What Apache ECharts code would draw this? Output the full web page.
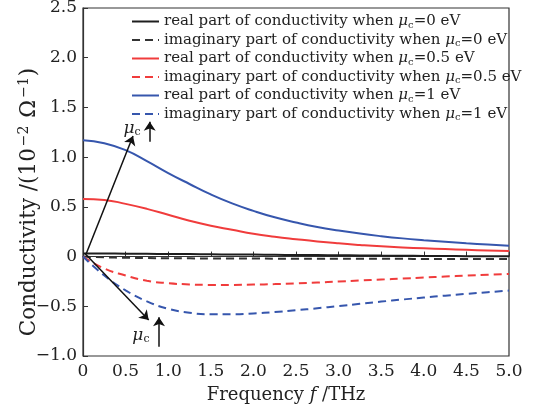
<!DOCTYPE html>
<html>
<head>
<meta charset="utf-8">
<script src="https://cdn.jsdelivr.net/npm/echarts@6/dist/echarts.min.js"></script>
<style>html,body{margin:0;padding:0;background:#fff}#c{width:535px;height:413px}</style>
</head>
<body>
<div id="c"></div>
<script>
// Frequency (THz)
const freq = [0,0.25,0.5,0.75,1.0,1.25,1.5,1.75,2.0,2.25,2.5,2.75,3.0,3.25,3.5,3.75,4.0,4.25,4.5,4.75,5.0];
// Conductivity (10^-2 S)
const real0  = [0.03,0.03,0.029,0.028,0.026,0.025,0.023,0.021,0.02,0.018,0.016,0.015,0.013,0.012,0.01,0.009,0.007,0.006,0.004,0.003,0.002];
const imag0  = [0,-0.008,-0.012,-0.015,-0.017,-0.018,-0.019,-0.02,-0.02,-0.021,-0.021,-0.022,-0.022,-0.023,-0.023,-0.023,-0.024,-0.024,-0.024,-0.025,-0.025];
const real05 = [0.58,0.57,0.53,0.48,0.42,0.36,0.31,0.27,0.23,0.20,0.175,0.152,0.133,0.117,0.103,0.092,0.083,0.075,0.068,0.061,0.055];
const imag05 = [0,-0.12,-0.19,-0.243,-0.268,-0.28,-0.285,-0.285,-0.282,-0.277,-0.27,-0.261,-0.251,-0.241,-0.231,-0.221,-0.211,-0.201,-0.192,-0.183,-0.175];
const real1  = [1.17,1.14,1.07,0.96,0.84,0.73,0.625,0.535,0.46,0.395,0.343,0.298,0.262,0.231,0.205,0.183,0.165,0.149,0.134,0.121,0.108];
const imag1  = [0,-0.19,-0.34,-0.45,-0.525,-0.565,-0.58,-0.58,-0.572,-0.558,-0.54,-0.52,-0.498,-0.475,-0.453,-0.432,-0.412,-0.393,-0.375,-0.358,-0.342];
const seriesNames = [
  'real part of conductivity when μc=0 eV',
  'imaginary part of conductivity when μc=0 eV',
  'real part of conductivity when μc=0.5 eV',
  'imaginary part of conductivity when μc=0.5 eV',
  'real part of conductivity when μc=1 eV',
  'imaginary part of conductivity when μc=1 eV'
];
const xTicks = [0,0.5,1.0,1.5,2.0,2.5,3.0,3.5,4.0,4.5,5.0];
const yTicks = [-1.0,-0.5,0,0.5,1.0,1.5,2.0,2.5];
// annotation arrows (data coordinates)
const arrowUp = [[0.04,0.033],[0.587,1.213]];
const arrowDown = [[0.02,0.033],[0.771,-0.638]];
const smallUp1 = [[0.783,1.156],[0.783,1.357]];
const smallUp2 = [[0.892,-0.906],[0.892,-0.611]];
const labelUp = [0.575,1.29];
const labelDown = [0.68,-0.79];

const FONT = 'DejaVu Serif';
const BLACK = '#1e1e1e', RED = '#f03c3c', BLUE = '#3656ad';
const colors = [BLACK, '#333333', RED, RED, BLUE, BLUE];
const datasets = [real0, imag0, real05, imag05, real1, imag1];

const muRich = {
  mu: {fontFamily: FONT, fontStyle: 'italic', fontSize: 15, color: '#222'},
  sub: {fontFamily: FONT, fontSize: 10, color: '#222', padding: [7,0,0,0]},
  t: {fontFamily: FONT, fontSize: 15, color: '#222'}
};

function pairs(arr){ return freq.map((f,i)=>[f, arr[i]]); }

const series = datasets.map((d,i)=>({
  name: seriesNames[i],
  type: 'line',
  data: pairs(d),
  smooth: true,
  symbol: 'none',
  silent: true,
  z: i % 2 === 0 ? 3 : 2,
  lineStyle: {color: colors[i], width: 2, type: i % 2 === 1 ? [8,5] : 'solid'},
  itemStyle: {color: colors[i]}
}));

series.push({
  type: 'line', name: 'annot', data: [], silent: true,
  markLine: {
    silent: true, animation: false,
    symbol: ['none','arrow'], symbolSize: 9,
    label: {show: false},
    lineStyle: {color: '#111', width: 1.5, type: 'solid'},
    itemStyle: {color: '#111'},
    data: [arrowUp, arrowDown, smallUp1, smallUp2].map(a => [{coord: a[0]}, {coord: a[1]}])
  },
  markPoint: {
    silent: true, animation: false, symbol: 'circle', symbolSize: 0,
    label: {show: true, position: 'inside', formatter: '{mu|μ}{sub|c}', rich: {
      mu: {fontFamily: FONT, fontStyle: 'italic', fontSize: 17, color: '#222'},
      sub: {fontFamily: FONT, fontSize: 11, color: '#222', padding: [8,0,0,0]}
    }},
    data: [{coord: labelUp}, {coord: labelDown}]
  }
});

const chart = echarts.init(document.getElementById('c'));
chart.setOption({
  animation: false,
  grid: {left: 83, right: 26, top: 8, bottom: 57, show: true, borderColor: '#333', borderWidth: 1.2,
    containLabel: false, outerBoundsMode: 'none'},
  legend: {
    data: seriesNames, orient: 'vertical', left: 126, top: 9,
    itemWidth: 27, itemHeight: 14, itemGap: 2.5, selectedMode: false,
    itemStyle: {opacity: 0, borderWidth: 0},
    formatter: n => n.split('μc').map(s => '{t|' + s + '}').join('{mu|μ}{sub|c}'),
    textStyle: {fontFamily: FONT, fontSize: 15, color: '#222', rich: muRich}
  },
  xAxis: {
    type: 'value', min: 0, max: 5, interval: 0.5,
    name: 'Frequency {i|f} /THz', nameLocation: 'middle', nameGap: 30,
    nameTextStyle: {fontFamily: FONT, fontSize: 18, color: '#222', padding: [0,20,0,0],
      rich: {i: {fontFamily: FONT, fontStyle: 'italic', fontSize: 18, color: '#222'}}},
    axisLine: {lineStyle: {color: '#333', width: 1.2}},
    axisTick: {inside: true, length: 5, lineStyle: {color: '#333'}},
    splitLine: {show: false},
    axisLabel: {fontFamily: FONT, fontSize: 17, color: '#222', margin: 7,
      formatter: v => v === 0 ? '0' : v.toFixed(1)}
  },
  yAxis: {
    type: 'value', min: -1, max: 2.5, interval: 0.5,
    name: 'Conductivity /(10{sup|−2} Ω{sup|−1})', nameLocation: 'middle', nameGap: 42,
    nameMoveOverlap: false,
    nameTextStyle: {fontFamily: FONT, fontSize: 21.5, color: '#222', padding: [0,40,0,0],
      rich: {sup: {fontFamily: FONT, fontSize: 14, color: '#222', padding: [0,1,10,2]}}},
    axisLine: {lineStyle: {color: '#333', width: 1.2}},
    axisTick: {inside: true, length: 5, lineStyle: {color: '#333'}},
    splitLine: {show: false},
    axisLabel: {fontFamily: FONT, fontSize: 17, color: '#222', margin: 6,
      formatter: v => v === 0 ? '0' : v.toFixed(1).replace('-', '−')}
  },
  series: series
});
</script>
</body>
</html>
